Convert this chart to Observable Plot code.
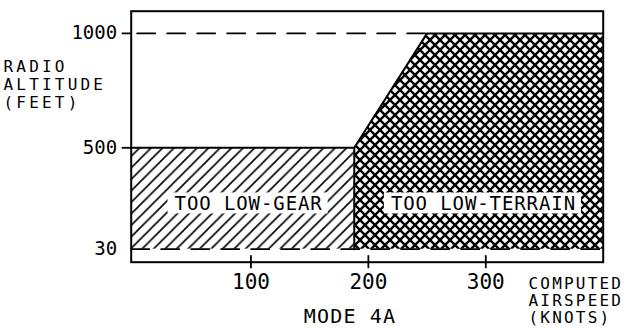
<!DOCTYPE html>
<html><head><meta charset="utf-8">
<script src="https://cdn.jsdelivr.net/npm/d3@7"></script>
<script src="https://cdn.jsdelivr.net/npm/@observablehq/plot@0.6"></script>
<style>body{margin:0;background:#fff} #chart svg{display:block}</style>
</head><body><div id="chart"></div>
<script>
// ---- data ----
const xTicks = [100, 200, 300];
const yTicks = [30, 500, 1000];
const yMajorTicks = [500, 1000];
const gearAirspeed = [-2, 188];
const gearAltitude = [30, 500];
const terrainAirspeed = [188, 250, 400];
const terrainTop = [500, 1000, 1000];
const terrainFloor = 30;
const dashed1000Airspeed = [-2, 250];
const dashed30Airspeed = [-2, 400];
const zoneLabels = ["TOO LOW-GEAR", "TOO LOW-TERRAIN"];
const zoneLabelX = [98, 298];
const zoneLabelY = [240, 240];
const yTitle = "RADIO\nALTITUDE\n(FEET)";
const xTitle = "COMPUTED\nAIRSPEED\n(KNOTS)";
const modeTitle = "MODE 4A";

// ---- tables built from the arrays ----
const gearRect = [{x1: gearAirspeed[0], x2: gearAirspeed[1], y1: gearAltitude[0], y2: gearAltitude[1]}];
const terrainArea = terrainAirspeed.map((x, i) => ({x, floor: terrainFloor, top: terrainTop[i]}));
const terrainOutline = [{x: terrainAirspeed[0], y: terrainFloor}, ...terrainAirspeed.map((x, i) => ({x, y: terrainTop[i]}))];
const gearTop = gearAirspeed.map(x => ({x, y: gearAltitude[1]}));
const line1000 = dashed1000Airspeed.map(x => ({x, y: 1000}));
const line30 = dashed30Airspeed.map(x => ({x, y: terrainFloor}));
const labelData = zoneLabels.map((t, i) => ({t, x: zoneLabelX[i], y: zoneLabelY[i]}));

// the schematic stretches the low-altitude band (30 ft drawn higher than true scale)
const stretch = d3.scaleLinear().domain([0, 30, 500, 1100]).range([0, 57, 500, 1100]);

const chart = Plot.plot({
  width: 628, height: 328,
  marginLeft: 130.7, marginRight: 25.3, marginTop: 10.7, marginBottom: 66.3,
  style: {fontFamily: "'DejaVu Sans Mono', monospace", fontSize: "19px", color: "black", background: "white"},
  x: {domain: [-2, 400]},
  y: {domain: [0, 1097], transform: stretch},
  marks: [
    Plot.rect(gearRect, {x1: "x1", x2: "x2", y1: "y1", y2: "y2", fill: "url(#diag)"}),
    Plot.areaY(terrainArea, {x: "x", y1: "floor", y2: "top", fill: "url(#cross)"}),
    Plot.line(terrainOutline, {x: "x", y: "y", stroke: "black", strokeWidth: 2, strokeLinejoin: "miter"}),
    Plot.line(gearTop, {x: "x", y: "y", stroke: "black", strokeWidth: 2}),
    Plot.line(line1000, {x: "x", y: "y", stroke: "black", strokeWidth: 1.8, strokeDasharray: "18,12", strokeDashoffset: -6}),
    Plot.line(line30, {x: "x", y: "y", stroke: "black", strokeWidth: 1.8, strokeDasharray: "18,12"}),
    Plot.text(labelData, {x: "x", y: "y", text: "t", fontSize: 19, fill: "black"}),
    Plot.frame({stroke: "black", strokeWidth: 2}),
    // tick marks crossing the frame
    Plot.axisX(xTicks, {anchor: "bottom", tickSize: 13, dy: -6.5, stroke: "black", strokeWidth: 1.8, tickFormat: () => "", label: null}),
    Plot.axisY(yMajorTicks, {anchor: "left", tickSize: 9, stroke: "black", strokeWidth: 1.8, tickFormat: () => "", label: null}),
    Plot.axisX(xTicks, {anchor: "bottom", tickSize: 0, tickPadding: 12, fontSize: 21, label: null}),
    Plot.axisY(yTicks, {anchor: "left", tickSize: 0, tickPadding: 14, fontSize: 19, tickFormat: d => String(d), label: null}),
    Plot.text([yTitle], {frameAnchor: "top-left", dx: -127.7, dy: 48.1, textAnchor: "start", lineAnchor: "top", lineHeight: 1.12, fontSize: 16}),
    Plot.text([xTitle], {frameAnchor: "bottom-right", dx: -74.7, dy: 14.1, textAnchor: "start", lineAnchor: "top", lineHeight: 1.08, fontSize: 16}),
    Plot.text([modeTitle], {frameAnchor: "bottom", dx: -17.2, dy: 47, textAnchor: "middle", lineAnchor: "top", fontSize: 20})
  ]
});
document.getElementById("chart").appendChild(chart);

const ns = "http://www.w3.org/2000/svg";
const defs = document.createElementNS(ns, "defs");
defs.innerHTML = `
<pattern id="diag" patternUnits="userSpaceOnUse" width="11.5" height="11.5">
  <path d="M-3,3 L3,-3 M0,11.5 L11.5,0 M8.5,14.5 L14.5,8.5" stroke="black" stroke-width="1.6"/>
</pattern>
<pattern id="cross" patternUnits="userSpaceOnUse" width="10" height="10">
  <path d="M-1,-1 L11,11 M11,-1 L-1,11" stroke="black" stroke-width="2.4"/>
</pattern>`;
chart.insertBefore(defs, chart.firstChild);

const spacing = new Map([
  [yTitle.replace(/\n/g, ""), "3.2px"],
  [xTitle.replace(/\n/g, ""), "2.2px"],
  [modeTitle, "1.2px"],
  [zoneLabels[0], "0.9px"],
  [zoneLabels[1], "0.9px"]
]);
chart.querySelectorAll("text").forEach(t => {
  const s = spacing.get(t.textContent);
  if (s) t.style.letterSpacing = s;
});
chart.querySelectorAll("text").forEach(t => {
  if (!zoneLabels.includes(t.textContent)) return;
  const b = t.getBBox();
  const r = document.createElementNS(ns, "rect");
  r.setAttribute("x", b.x - 7);
  r.setAttribute("y", b.y + 0.5);
  r.setAttribute("width", b.width + 12);
  r.setAttribute("height", b.height - 1);
  r.setAttribute("fill", "white");
  if (t.getAttribute("transform")) r.setAttribute("transform", t.getAttribute("transform"));
  t.parentNode.insertBefore(r, t);
});
</script>
</body></html>
